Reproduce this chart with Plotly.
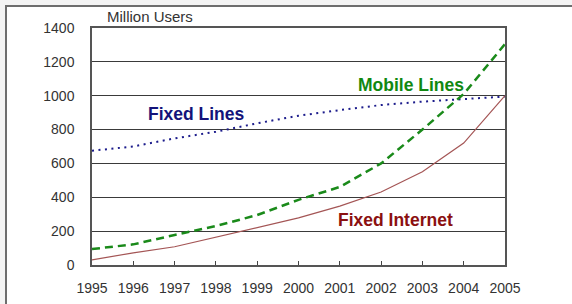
import plotly.graph_objects as go

years = [1995, 1996, 1997, 1998, 1999, 2000, 2001, 2002, 2003, 2004, 2005]
fixed_lines = [675, 700, 748, 787, 837, 882, 915, 945, 965, 980, 995]
mobile_lines = [94, 122, 177, 230, 295, 385, 461, 600, 800, 1010, 1305]
fixed_internet = [30, 72, 108, 165, 224, 278, 348, 431, 551, 720, 1000]
y_ticks = [0, 200, 400, 600, 800, 1000, 1200, 1400]

FONT = "Liberation Sans, Arial, sans-serif"

fig = go.Figure()
fig.add_trace(go.Scatter(x=years, y=fixed_lines, mode="lines",
                         line=dict(color="#1c1c8c", width=2, dash="2px,4.5px")))
fig.add_trace(go.Scatter(x=years, y=mobile_lines, mode="lines",
                         line=dict(color="#1a8a1a", width=2.5, dash="8px,5px")))
fig.add_trace(go.Scatter(x=years, y=fixed_internet, mode="lines",
                         line=dict(color="#a45555", width=1.2)))

# outer frame
fig.add_shape(type="rect", xref="paper", yref="paper",
              x0=-86 / 413, x1=1.3, y0=-0.3, y1=1 + 22 / 237,
              line=dict(color="#6e6e6e", width=2), fillcolor="white", layer="below")

font_lbl = dict(family=FONT, size=17.5)
fig.add_annotation(x=1997.52, y=892, text="<b>Fixed Lines</b>", showarrow=False,
                   font=dict(color="#13137a", **font_lbl))
fig.add_annotation(x=2002.72, y=1063, text="<b>Mobile Lines</b>", showarrow=False,
                   font=dict(color="#118811", **font_lbl))
fig.add_annotation(x=2002.34, y=266, text="<b>Fixed Internet</b>", showarrow=False,
                   font=dict(color="#8b1010", **font_lbl))
fig.add_annotation(xref="paper", yref="paper", x=13 / 413, y=1 + 11 / 237,
                   xanchor="left", yanchor="middle", text="Million Users", showarrow=False,
                   font=dict(family=FONT, size=15, color="#333"))

fig.update_layout(
    width=572, height=304,
    margin=dict(l=92, r=67, t=28, b=39, autoexpand=False),
    paper_bgcolor="#f4f4f4", plot_bgcolor="white",
    showlegend=False,
    font=dict(family=FONT, size=14, color="#333"),
)
fig.update_xaxes(range=[1995, 2005], tickvals=years, ticks="inside", ticklen=4,
                 tickcolor="#444", showgrid=False, showline=True, linecolor="#555",
                 linewidth=1.5, mirror=True, zeroline=False, fixedrange=True,
                 ticklabelstandoff=9, automargin=False)
fig.update_yaxes(range=[0, 1400], tickvals=y_ticks, showgrid=True, gridcolor="#3a3a3a",
                 gridwidth=1, showline=True, linecolor="#555", linewidth=1.5, mirror=True,
                 zeroline=False, ticks="", ticklabelstandoff=13, automargin=False)

fig.write_html("out.html", config={"displayModeBar": False},
               post_script="document.body.style.margin='0';")
